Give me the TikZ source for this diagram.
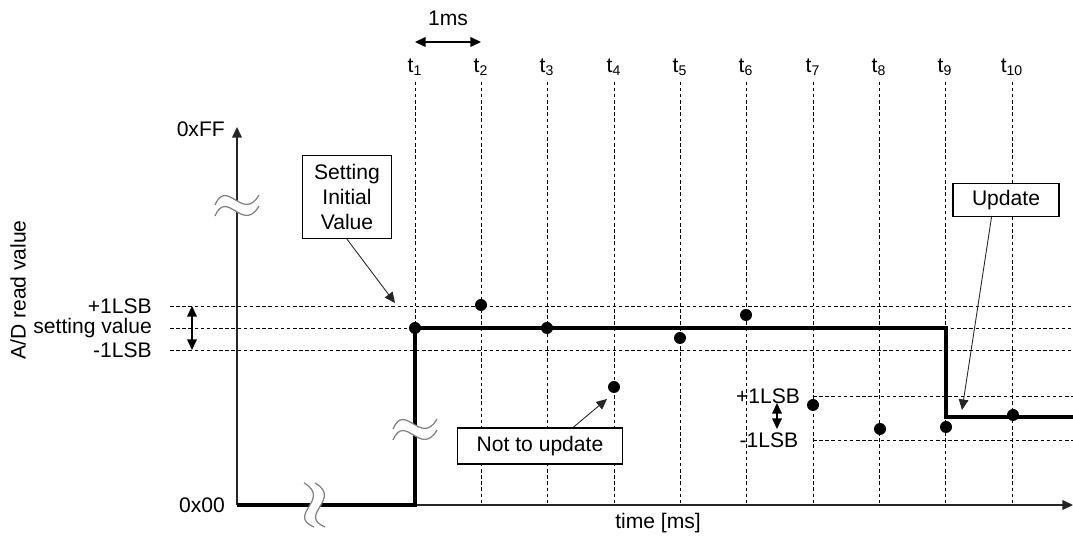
\documentclass[tikz,border=0pt]{standalone}
\usepackage{fontspec}
\setmainfont{Liberation Sans}
\usetikzlibrary{arrows.meta,positioning,calc}

\begin{document}
\begin{tikzpicture}[x=0.02cm,y=-0.02cm,
    font=\fontsize{12}{14}\selectfont,
    >={Triangle[length=6pt,width=5.5pt]},
    axis/.style={draw=black!85,line width=0.7pt},
    grid/.style={draw=black,line width=0.55pt,dash pattern=on 2pt off 1.5pt},
    sig/.style={draw=black,line width=1.8pt},
    dot/.style={circle,fill=black,inner sep=0pt,minimum size=0.24cm},
    note/.style={draw=black,line width=0.8pt,align=center,inner sep=1pt,fill=white},
    callout/.style={draw=black!85,line width=0.5pt,->},
    brk/.pic={
      \fill[white] (-22,0) .. controls (-10,-28) and (6,18) .. (22,-10)
        -- (22,1) .. controls (6,29) and (-10,-17) .. (-22,11) -- cycle;
      \draw[gray,line width=0.7pt] (-22,0) .. controls (-10,-28) and (6,18) .. (22,-10);
      \draw[gray,line width=0.7pt] (-22,11) .. controls (-10,-17) and (6,29) .. (22,1);
    }
  ]
  \useasboundingbox (0,0) rectangle (1073,543);

  % axes
  \coordinate (o) at (237,505);
  \coordinate (ytop) at (237,127);
  \coordinate (xend) at (1073,505);
  \node[anchor=east] (ff) at (231,129) {0xFF};
  \node[anchor=east] (zero) at (231,505) {0x00};
  \node[rotate=90] (ylab) at (18,290) {A/D read value};
  \node (xlab) at (658,523) {time [ms]};

  % sampling instants
  \node (t1) at (415,67) {t\textsubscript{1}};
  \node (t2) at (481,67) {t\textsubscript{2}};
  \node (t3) at (547,67) {t\textsubscript{3}};
  \node (t4) at (614,67) {t\textsubscript{4}};
  \node (t5) at (680,67) {t\textsubscript{5}};
  \node (t6) at (746,67) {t\textsubscript{6}};
  \node (t7) at (813,67) {t\textsubscript{7}};
  \node (t8) at (879,67) {t\textsubscript{8}};
  \node (t9) at (945,67) {t\textsubscript{9}};
  \node (t10) at (1012,67) {t\textsubscript{10}};
  \draw[grid] (t1.south) -- (t1.south |- o);
  \draw[grid] (t2.south) -- (t2.south |- o);
  \draw[grid] (t3.south) -- (t3.south |- o);
  \draw[grid] (t4.south) -- (t4.south |- o);
  \draw[grid] (t5.south) -- (t5.south |- o);
  \draw[grid] (t6.south) -- (t6.south |- o);
  \draw[grid] (t7.south) -- (t7.south |- o);
  \draw[grid] (t8.south) -- (t8.south |- o);
  \draw[grid] (t9.south) -- (t9.south |- o);
  \draw[grid] (t10.south) -- (t10.south |- o);

  % 1ms
  \coordinate (ms1) at (415,42);
  \coordinate (ms2) at (481,42);
  \draw[line width=0.7pt,<->] (ms1) -- (ms2);
  \node (ms) at (448,18) {1ms};

  % setting value band
  \node[anchor=east] (lp) at (158,306) {+1LSB};
  \node[anchor=east] (sv) at (158,328) {setting value};
  \node[anchor=east] (lm) at (158,350) {-1LSB};
  \draw[grid] (170,306) -- (1073,306);
  \draw[grid] (170,328) -- (1073,328);
  \draw[grid] (170,350) -- (1073,350);
  \coordinate (a1) at (192,306);
  \coordinate (a2) at (192,350);
  \draw[line width=0.7pt,<->] (a1) -- (a2);

  % new band
  \node (np) at (768,396) {+1LSB};
  \node (nm) at (769,440) {-1LSB};
  \draw[grid] (813,396) -- (1073,396);
  \draw[grid] (813,440) -- (1073,440);
  \coordinate (b1) at (777,403);
  \coordinate (b2) at (777,429);
  \draw[line width=0.7pt,<->] (b1) -- (b2);

  \draw[axis,->] (o) -- (ytop);
  \draw[axis,->] (o) -- (xend);

  % stored value
  \coordinate (s1) at (415,505);
  \coordinate (s2) at (415,328);
  \coordinate (s3) at (946,328);
  \coordinate (s4) at (946,417);
  \coordinate (s5) at (1073,417);
  \draw[sig] (o) -- (s1) -- (s2) -- (s3) -- (s4) -- (s5);

  \pic at (237,205) {brk};
  \pic at (415,429) {brk};
  \pic[rotate=90] at (314,505) {brk};

  % samples
  \node[dot] (d1) at (415,328) {};
  \node[dot] (d2) at (481,305) {};
  \node[dot] (d3) at (547,328) {};
  \node[dot] (d4) at (614,387) {};
  \node[dot] (d5) at (680,338) {};
  \node[dot] (d6) at (746,315) {};
  \node[dot] (d7) at (813,405) {};
  \node[dot] (d8) at (880,429) {};
  \node[dot] (d9) at (946,427) {};
  \node[dot] (d10) at (1013,415) {};

  % notes
  \node[note,minimum width=1.78cm,minimum height=1.66cm] (si) at (347,197) {Setting\\Initial\\Value};
  \node[note,minimum width=3.3cm,minimum height=0.72cm] (nu) at (540,446) {Not to update};
  \node[note,minimum width=2.12cm,minimum height=0.66cm] (up) at (1006,200) {Update};
  \coordinate (c1) at (395,303);
  \coordinate (c2) at (607,399);
  \coordinate (c3) at (962,410);
  \draw[callout] (si.south) -- (c1);
  \draw[callout] ($(nu.north)!0.4!(nu.north east)$) -- (c2);
  \draw[callout] ($(up.south)!0.27!(up.south west)$) -- (c3);
\end{tikzpicture}
\end{document}
